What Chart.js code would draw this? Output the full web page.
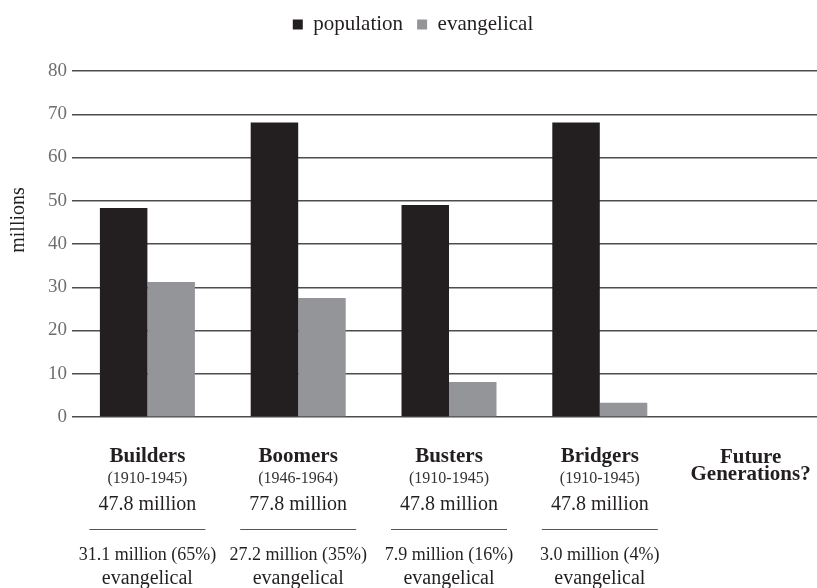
<!DOCTYPE html>
<html>
<head>
<meta charset="utf-8">
<script src="https://cdn.jsdelivr.net/npm/chart.js@4.4.1/dist/chart.umd.min.js"></script>
<style>
  html, body { margin: 0; padding: 0; background: #fff; overflow: hidden; }
  #wrap { position: relative; width: 830px; height: 588px; }
</style>
</head>
<body>
<div id="wrap"><canvas id="myChart"></canvas></div>
<script>
// categories and values
var generations = ['Builders', 'Boomers', 'Busters', 'Bridgers', ['Future', 'Generations?']];
var population = [48.3, 68.1, 49.0, 68.1, null];
var evangelical = [31.2, 27.5, 8.1, 3.3, null];
var yTicks = [0, 10, 20, 30, 40, 50, 60, 70, 80];

// text under each category
var years = ['(1910-1945)', '(1946-1964)', '(1910-1945)', '(1910-1945)', ''];
var totals = ['47.8 million', '77.8 million', '47.8 million', '47.8 million', ''];
var evangelicalText = ['31.1 million (65%)', '27.2 million (35%)', '7.9 million (16%)', '3.0 million (4%)', ''];
var evangelicalWord = ['evangelical', 'evangelical', 'evangelical', 'evangelical', ''];

var serif = "'Liberation Serif', 'Times New Roman', serif";
var ink = '#231f20';

// extra room between legend and plot
var legendGap = {
    id: 'legendGap',
    beforeInit: function(chart) {
        var fit = chart.legend.fit;
        chart.legend.fit = function() {
            fit.bind(chart.legend)();
            this.height += 26;
        };
    }
};

// draws the stacked text under the x axis and the rotated y title
var labelsPlugin = {
    id: 'labelsPlugin',
    afterDraw: function(chart) {
        var ctx = chart.ctx;
        var x = chart.scales.x;
        ctx.save();
        ctx.fillStyle = ink;
        ctx.textAlign = 'center';
        ctx.textBaseline = 'alphabetic';

        for (var i = 0; i < generations.length; i++) {
            var cx = x.getPixelForValue(i);
            var name = generations[i];
            ctx.font = 'bold 21px ' + serif;
            if (Array.isArray(name)) {
                ctx.fillText(name[0], cx, 463);
                ctx.fillText(name[1], cx, 480);
                continue;
            }
            ctx.fillText(name, cx, 462);
            ctx.font = '16px ' + serif;
            ctx.fillStyle = '#333';
            ctx.fillText(years[i], cx, 483);
            ctx.fillStyle = ink;
            ctx.font = '20px ' + serif;
            ctx.fillText(totals[i], cx, 510);

            ctx.strokeStyle = '#555';
            ctx.lineWidth = 1;
            ctx.beginPath();
            ctx.moveTo(cx - 58, 529.5);
            ctx.lineTo(cx + 58, 529.5);
            ctx.stroke();

            ctx.font = '18px ' + serif;
            ctx.fillText(evangelicalText[i], cx, 560);
            ctx.font = '20px ' + serif;
            ctx.fillText(evangelicalWord[i], cx, 584);
        }

        // y axis title
        ctx.translate(19, 220);
        ctx.rotate(-Math.PI / 2);
        ctx.textBaseline = 'middle';
        ctx.font = '20px ' + serif;
        ctx.fillText('millions', 0, 0);
        ctx.restore();
    }
};

const ctx = document.getElementById('myChart').getContext('2d');
const myChart = new Chart(ctx, {
    type: 'bar',
    data: {
        labels: generations,
        datasets: [{
            label: 'population',
            data: population,
            backgroundColor: ink,
            categoryPercentage: 0.63,
            barPercentage: 1
        }, {
            label: 'evangelical',
            data: evangelical,
            backgroundColor: '#939598',
            categoryPercentage: 0.63,
            barPercentage: 1
        }]
    },
    options: {
        responsive: true,
        maintainAspectRatio: false,
        animation: false,
        layout: {
            padding: { top: 0, right: 4, left: 0, bottom: 0 }
        },
        plugins: {
            tooltip: { enabled: false },
            legend: {
                position: 'top',
                labels: {
                    boxWidth: 10,
                    boxHeight: 10,
                    padding: 14,
                    color: ink,
                    font: { family: serif, size: 21 }
                }
            }
        },
        scales: {
            x: {
                grid: { display: false },
                border: { display: false },
                ticks: { display: false },
                afterFit: function(s) { s.height = 171; }
            },
            y: {
                min: 0,
                max: 80,
                afterBuildTicks: function(s) {
                    s.ticks = yTicks.map(function(v) { return { value: v }; });
                },
                grid: { color: '#4d4d4f', lineWidth: 1.5, drawTicks: false },
                border: { display: false },
                ticks: {
                    padding: 5,
                    color: '#6d6e71',
                    font: { family: serif, size: 19 }
                },
                afterFit: function(s) { s.width = 72; }
            }
        }
    },
    plugins: [legendGap, labelsPlugin]
});
</script>
</body>
</html>
